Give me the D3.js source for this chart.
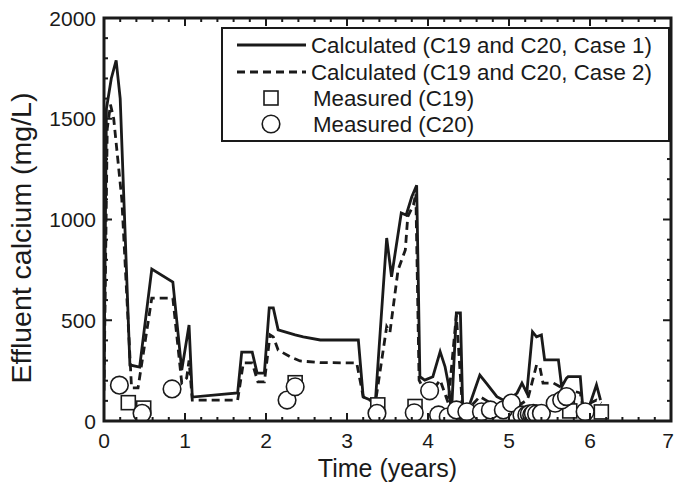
<!DOCTYPE html>
<html>
<head>
<meta charset="utf-8">
<script src="https://cdn.jsdelivr.net/npm/d3@7/dist/d3.min.js"></script>
<style>
  html, body { margin: 0; padding: 0; background: #fff; }
  svg text { font-family: "Liberation Sans", Arial, sans-serif; fill: #1a1a1a; }
</style>
</head>
<body>
<svg id="chart" width="675" height="484"></svg>
<script>
// Calculated effluent calcium, Case 1 (time in years, mg/L)
const case1Time = [0, 0.03, 0.09, 0.15, 0.2, 0.32, 0.44, 0.59, 0.85, 0.96, 1.05, 1.09, 1.65, 1.70, 1.83, 1.89, 1.98, 2.04, 2.09, 2.15, 2.36, 2.46, 2.67, 3.14, 3.2, 3.35, 3.49, 3.55, 3.67, 3.73, 3.80, 3.86, 3.90, 3.96, 4.06, 4.15, 4.21, 4.25, 4.29, 4.35, 4.40, 4.43, 4.52, 4.64, 4.72, 4.85, 4.97, 5.10, 5.16, 5.22, 5.29, 5.34, 5.40, 5.44, 5.61, 5.65, 5.71, 5.73, 5.88, 5.91, 5.99, 6.08, 6.13];
const case1Value = [200, 1550, 1700, 1790, 1600, 278, 268, 754, 690, 253, 476, 119, 139, 342, 342, 238, 238, 561, 561, 452, 427, 417, 402, 402, 119, 94, 908, 716, 1032, 1022, 1113, 1170, 220, 203, 220, 344, 270, 188, 40, 536, 536, 40, 89, 228, 188, 121, 96, 139, 188, 139, 443, 418, 427, 303, 303, 170, 213, 220, 220, 71, 71, 179, 104];

// Calculated effluent calcium, Case 2
const case2Time = [0, 0.04, 0.08, 0.12, 0.22, 0.34, 0.42, 0.59, 0.85, 0.96, 1.02, 1.05, 1.09, 1.65, 1.72, 1.83, 1.90, 1.98, 2.05, 2.09, 2.15, 2.30, 2.42, 2.67, 3.12, 3.2, 3.35, 3.49, 3.53, 3.63, 3.72, 3.75, 3.82, 3.85, 3.89, 3.95, 4.06, 4.15, 4.25, 4.35, 4.43, 4.52, 4.64, 4.85, 5.10, 5.22, 5.24, 5.34, 5.38, 5.42, 5.55, 5.63, 5.69, 5.75, 5.88, 5.91, 6.08, 6.14];
const case2Value = [150, 1450, 1570, 1500, 1100, 164, 164, 610, 610, 189, 213, 300, 104, 104, 288, 288, 194, 194, 427, 417, 352, 318, 298, 290, 288, 121, 89, 468, 440, 749, 849, 1014, 1072, 1130, 203, 154, 154, 203, 89, 526, 40, 69, 121, 71, 71, 104, 121, 278, 270, 188, 188, 170, 145, 154, 139, 71, 104, 89];

// Measured calcium, column C19
const c19Time = [0.30, 0.49, 2.36, 3.38, 3.84, 4.14, 4.42, 4.72, 5.20, 5.72, 5.75, 6.14];
const c19Value = [91, 64, 190, 80, 72, 25, 45, 22, 30, 95, 50, 45];

// Measured calcium, column C20
const c20Time = [0.19, 0.47, 0.84, 2.26, 2.36, 3.37, 3.83, 4.02, 4.13, 4.25, 4.35, 4.48, 4.66, 4.77, 4.93, 5.03, 5.16, 5.22, 5.25, 5.28, 5.30, 5.34, 5.40, 5.57, 5.65, 5.71, 5.94];
const c20Value = [178, 38, 159, 104, 170, 38, 41, 150, 30, 21, 55, 46, 46, 55, 55, 89, 30, 30, 35, 30, 38, 35, 38, 88, 104, 121, 46];

const xTicks = [0, 1, 2, 3, 4, 5, 6, 7];
const yTicks = [0, 500, 1000, 1500, 2000];

const legendLabels = [
  "Calculated (C19 and C20, Case 1)",
  "Calculated (C19 and C20, Case 2)",
  "Measured (C19)",
  "Measured (C20)"
];

const svg = d3.select("#chart");
const m = { left: 104, right: 671, top: 18, bottom: 421 };

const x = d3.scaleLinear().domain([0, 7]).range([m.left, m.right]);
const y = d3.scaleLinear().domain([0, 2000]).range([m.bottom, m.top]);

const plot = svg.append("g");
plot.append("clipPath").attr("id", "clip")
  .append("rect").attr("x", m.left).attr("y", m.top)
  .attr("width", m.right - m.left).attr("height", m.bottom - m.top);

const zip = (a, b) => a.map((t, i) => [t, b[i]]);
const line = d3.line().x(d => x(d[0])).y(d => y(d[1]));

const marks = plot.append("g").attr("clip-path", "url(#clip)");

marks.append("path")
  .datum(zip(case2Time, case2Value))
  .attr("d", line)
  .attr("fill", "none").attr("stroke", "#1a1a1a")
  .attr("stroke-width", 2.8).attr("stroke-dasharray", "8,5")
  .attr("stroke-linejoin", "miter");

marks.append("path")
  .datum(zip(case1Time, case1Value))
  .attr("d", line)
  .attr("fill", "none").attr("stroke", "#1a1a1a")
  .attr("stroke-width", 2.8).attr("stroke-linejoin", "miter");

const sq = 14;
marks.selectAll("rect.c19")
  .data(zip(c19Time, c19Value))
  .join("rect").attr("class", "c19")
  .attr("x", d => x(d[0]) - sq / 2).attr("y", d => y(d[1]) - sq / 2)
  .attr("width", sq).attr("height", sq)
  .attr("fill", "#fff").attr("stroke", "#1a1a1a").attr("stroke-width", 1.6);

marks.selectAll("circle.c20")
  .data(zip(c20Time, c20Value))
  .join("circle").attr("class", "c20")
  .attr("cx", d => x(d[0])).attr("cy", d => y(d[1])).attr("r", 8.8)
  .attr("fill", "#fff").attr("stroke", "#1a1a1a").attr("stroke-width", 1.6);

// Inward ticks on all four sides
const tickG = svg.append("g").attr("stroke", "#1a1a1a").attr("stroke-width", 2);
const xMinor = d3.range(0, 7.0001, 0.2);
const yMinor = d3.range(0, 2000.1, 100);
xMinor.forEach(v => {
  const major = Math.abs(v - Math.round(v)) < 1e-6;
  const len = major ? 8 : 4;
  tickG.append("line").attr("x1", x(v)).attr("x2", x(v)).attr("y1", m.bottom).attr("y2", m.bottom - len);
  tickG.append("line").attr("x1", x(v)).attr("x2", x(v)).attr("y1", m.top).attr("y2", m.top + len);
});
yMinor.forEach(v => {
  const major = v % 500 === 0;
  const len = major ? 8 : 4;
  tickG.append("line").attr("y1", y(v)).attr("y2", y(v)).attr("x1", m.left).attr("x2", m.left + len);
  tickG.append("line").attr("y1", y(v)).attr("y2", y(v)).attr("x1", m.right).attr("x2", m.right - len);
});

// Frame
svg.append("rect")
  .attr("x", m.left).attr("y", m.top)
  .attr("width", m.right - m.left).attr("height", m.bottom - m.top)
  .attr("fill", "none").attr("stroke", "#1a1a1a").attr("stroke-width", 3);

// Tick labels (the last one is kept inside the page edge)
svg.append("g").selectAll("text")
  .data(xTicks).join("text")
  .attr("x", d => Math.min(x(d), 668)).attr("y", 448)
  .attr("text-anchor", "middle").attr("font-size", 21)
  .text(d => d);

svg.append("g").selectAll("text")
  .data(yTicks).join("text")
  .attr("x", 96).attr("y", d => y(d) + 7.5)
  .attr("text-anchor", "end").attr("font-size", 21)
  .text(d => d);

// Axis titles
svg.append("text")
  .attr("x", x(3.5)).attr("y", 477)
  .attr("text-anchor", "middle").attr("font-size", 25)
  .text("Time (years)");

svg.append("text")
  .attr("transform", "translate(31, 238) rotate(-90)")
  .attr("text-anchor", "middle").attr("font-size", 28.5)
  .text("Effluent calcium (mg/L)");

// Legend
const lg = svg.append("g");
lg.append("rect")
  .attr("x", 222).attr("y", 28).attr("width", 447).attr("height", 113)
  .attr("fill", "#fff").attr("stroke", "#1a1a1a").attr("stroke-width", 2);
const rows = [45, 72, 98, 124];
lg.append("line").attr("x1", 237).attr("x2", 306).attr("y1", rows[0]).attr("y2", rows[0])
  .attr("stroke", "#1a1a1a").attr("stroke-width", 2.8);
lg.append("line").attr("x1", 237).attr("x2", 306).attr("y1", rows[1]).attr("y2", rows[1])
  .attr("stroke", "#1a1a1a").attr("stroke-width", 2.8).attr("stroke-dasharray", "8,5");
lg.append("rect").attr("x", 271 - sq / 2).attr("y", rows[2] - sq / 2).attr("width", sq).attr("height", sq)
  .attr("fill", "#fff").attr("stroke", "#1a1a1a").attr("stroke-width", 1.6);
lg.append("circle").attr("cx", 271).attr("cy", rows[3]).attr("r", 8.8)
  .attr("fill", "#fff").attr("stroke", "#1a1a1a").attr("stroke-width", 1.6);
lg.selectAll("text.lab").data(legendLabels).join("text").attr("class", "lab")
  .attr("x", (d, i) => i < 2 ? 311 : 313).attr("y", (d, i) => rows[i] + 7.5)
  .attr("font-size", 22.3)
  .text(d => d);
</script>
</body>
</html>
